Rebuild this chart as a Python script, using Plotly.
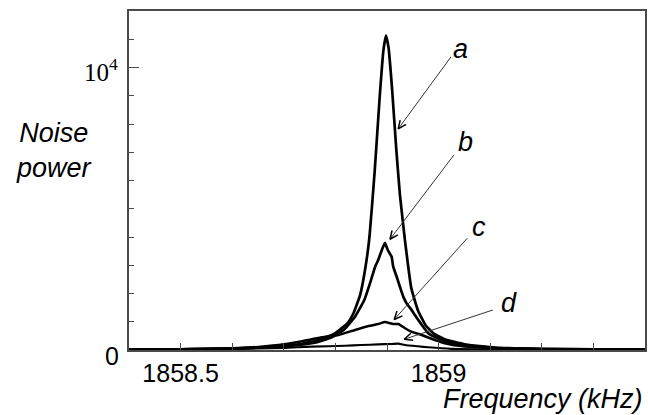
import math
import plotly.graph_objects as go

# ---------------- data ----------------
FREQ_A = [1858.40, 1858.45, 1858.50, 1858.55, 1858.60, 1858.65, 1858.70, 1858.73, 1858.77,
          1858.80, 1858.823, 1858.835, 1858.848, 1858.858, 1858.866, 1858.876, 1858.886,
          1858.893, 1858.898, 1858.903, 1858.910, 1858.918, 1858.925, 1858.935, 1858.947,
          1858.960, 1858.975, 1858.990, 1859.012, 1859.05, 1859.11, 1859.20, 1859.30, 1859.40]
POWER_A = [15, 20, 25, 35, 50, 85, 150, 200, 370,
           600, 940, 1300, 1950, 2900, 4000, 6300, 9000,
           10600, 11130, 10700, 9200, 7100, 5500, 3850, 2200,
           1400, 870, 590, 380, 200, 85, 40, 20, 15]

FREQ_B = [1858.40, 1858.50, 1858.60, 1858.65, 1858.70, 1858.72, 1858.76, 1858.793, 1858.816,
          1858.838, 1858.856, 1858.867, 1858.877, 1858.883, 1858.890, 1858.896, 1858.9015,
          1858.909, 1858.912, 1858.9186, 1858.925, 1858.9315, 1858.938, 1858.9475, 1858.954,
          1858.965, 1858.980, 1859.00, 1859.03, 1859.10, 1859.20, 1859.40]
POWER_B = [15, 25, 50, 80, 130, 160, 260, 450, 710,
           1180, 1770, 2360, 2950, 3190, 3540, 3790, 3540,
           3300, 2950, 2600, 2240, 1890, 1650, 1420, 1240,
           950, 590, 400, 220, 80, 35, 15]

FREQ_C = [1858.40, 1858.50, 1858.60, 1858.65, 1858.70, 1858.74, 1858.774, 1858.806, 1858.838,
          1858.864, 1858.883, 1858.896, 1858.912, 1858.922, 1858.935, 1858.947, 1858.967,
          1858.993, 1859.012, 1859.05, 1859.10, 1859.20, 1859.40]
POWER_C = [15, 30, 60, 110, 200, 330, 450, 530, 710,
           850, 920, 990, 920, 920, 770, 650, 530,
           350, 240, 120, 70, 30, 15]

FREQ_D = [1858.40, 1858.50, 1858.60, 1858.70, 1858.754, 1858.819, 1858.850, 1858.883,
          1858.909, 1858.922, 1858.935, 1858.960, 1858.980, 1859.025, 1859.08, 1859.15, 1859.40]
POWER_D = [10, 20, 35, 75, 118, 150, 175, 200,
           215, 225, 180, 130, 95, 40, 25, 15, 10]

CURVE_NAMES = ["a", "b", "c", "d"]
CURVE_WIDTHS = [2.7, 2.7, 2.5, 2.1]

X_TICK_VALUES = [1858.5, 1859]
X_TICK_TEXT = ["1858.5", "1859"]
Y_TICK_VALUES = [0, 10000]
Y_TICK_TEXT = ["0", "10<sup>4</sup>"]

LABEL_X = [1859.0425, 1859.0512, 1859.0782, 1859.1372]
LABEL_Y = [10662, 7350, 4368, 1651]
ARROW_TAIL_X = [1859.0241, 1859.0299, 1859.0556, 1859.1052]
ARROW_TAIL_Y = [10379, 6907, 3957, 1417]
ARROW_TIP_X = [1858.9218, 1858.9058, 1858.9140, 1858.9334]
ARROW_TIP_Y = [7829, 3921, 1080, 379]

X_RANGE = [1858.4, 1859.4]
Y_RANGE = [0, 12000]

# ---------------- layout constants ----------------
W, H = 648, 415
ML, MR, MT, MB = 129, 1, 11, 65
SANS = "Liberation Sans, Arial, sans-serif"
SERIF = "Liberation Serif, Times New Roman, serif"
FRAME = "#4a4a4a"

fig = go.Figure()

series = [(FREQ_A, POWER_A), (FREQ_B, POWER_B), (FREQ_C, POWER_C), (FREQ_D, POWER_D)]
for (fx, py), name, lw in zip(series, CURVE_NAMES, CURVE_WIDTHS):
    fig.add_trace(go.Scatter(x=fx, y=py, mode="lines", name=name,
                             line=dict(color="black", width=lw, shape="spline", smoothing=0.4),
                             showlegend=False, hoverinfo="skip"))

# pointer arrows (shaft + open V head)
sx = (W - ML - MR) / (X_RANGE[1] - X_RANGE[0])
sy = (H - MT - MB) / (Y_RANGE[1] - Y_RANGE[0])
HEAD_LEN = 9.0
HEAD_ANG = math.radians(24)
for tx, ty, hx, hy in zip(ARROW_TAIL_X, ARROW_TAIL_Y, ARROW_TIP_X, ARROW_TIP_Y):
    fig.add_trace(go.Scatter(x=[tx, hx], y=[ty, hy], mode="lines",
                             line=dict(color="#333333", width=1),
                             showlegend=False, hoverinfo="skip"))
    ang = math.atan2((ty - hy) * sy, (tx - hx) * sx)
    xs, ys = [], []
    for s in (1, 0, -1):
        if s == 0:
            xs.append(hx); ys.append(hy)
        else:
            a = ang + s * HEAD_ANG
            xs.append(hx + HEAD_LEN * math.cos(a) / sx)
            ys.append(hy + HEAD_LEN * math.sin(a) / sy)
    fig.add_trace(go.Scatter(x=xs, y=ys, mode="lines",
                             line=dict(color="black", width=1.5),
                             showlegend=False, hoverinfo="skip"))

annotations = []
for name, lx, ly in zip(CURVE_NAMES, LABEL_X, LABEL_Y):
    annotations.append(dict(x=lx, y=ly, xref="x", yref="y", text="<i>%s</i>" % name,
                            showarrow=False, font=dict(family=SANS, size=27, color="black"),
                            xanchor="center", yanchor="middle"))

# y tick labels
annotations.append(dict(x=0, y=Y_TICK_VALUES[0], xref="paper", yref="y", text=Y_TICK_TEXT[0],
                        showarrow=False, xanchor="right", yanchor="middle", xshift=-8, yshift=-6,
                        font=dict(family=SANS, size=25, color="black")))
annotations.append(dict(x=0, y=Y_TICK_VALUES[1], xref="paper", yref="y", text=Y_TICK_TEXT[1],
                        showarrow=False, xanchor="right", yanchor="middle", xshift=-9, yshift=-2,
                        font=dict(family=SERIF, size=25, color="black")))

# axis titles
annotations.append(dict(x=0, y=0, xref="paper", yref="paper", text="<i>Noise<br>power</i>",
                        showarrow=False, xanchor="center", yanchor="middle", align="center",
                        xshift=-75, yshift=200,
                        font=dict(family=SANS, size=27, color="black")))
annotations.append(dict(x=1, y=0, xref="paper", yref="paper", text="<i>Frequency (kHz)</i>",
                        showarrow=False, xanchor="right", yanchor="middle",
                        xshift=0, yshift=-49,
                        font=dict(family=SANS, size=27, color="black")))

fig.update_layout(
    width=W, height=H,
    margin=dict(l=ML, r=MR, t=MT, b=MB),
    paper_bgcolor="white", plot_bgcolor="white",
    annotations=annotations,
    xaxis=dict(range=X_RANGE, showgrid=False, zeroline=False,
               showline=True, linecolor=FRAME, linewidth=1.5, mirror=True,
               tickvals=X_TICK_VALUES, ticktext=X_TICK_TEXT,
               ticks="inside", ticklen=7, tickcolor=FRAME, tickwidth=1,
               ticklabelstandoff=0,
               tickfont=dict(family=SANS, size=25, color="black"),
               minor=dict(dtick=0.1, tick0=1858.4, ticks="inside", ticklen=7,
                          tickcolor=FRAME, tickwidth=1)),
    yaxis=dict(range=Y_RANGE, showgrid=False, zeroline=False,
               showline=True, linecolor=FRAME, linewidth=1.5, mirror=True,
               tickvals=[Y_TICK_VALUES[1]], showticklabels=False,
               ticks="inside", ticklen=10, tickcolor=FRAME, tickwidth=1,
               minor=dict(dtick=1000, tick0=0, ticks="inside", ticklen=5,
                          tickcolor=FRAME, tickwidth=1)),
)

fig.write_html("out.html", config={"displayModeBar": False},
               post_script="document.body.style.margin='0';document.body.style.overflow='hidden';")
